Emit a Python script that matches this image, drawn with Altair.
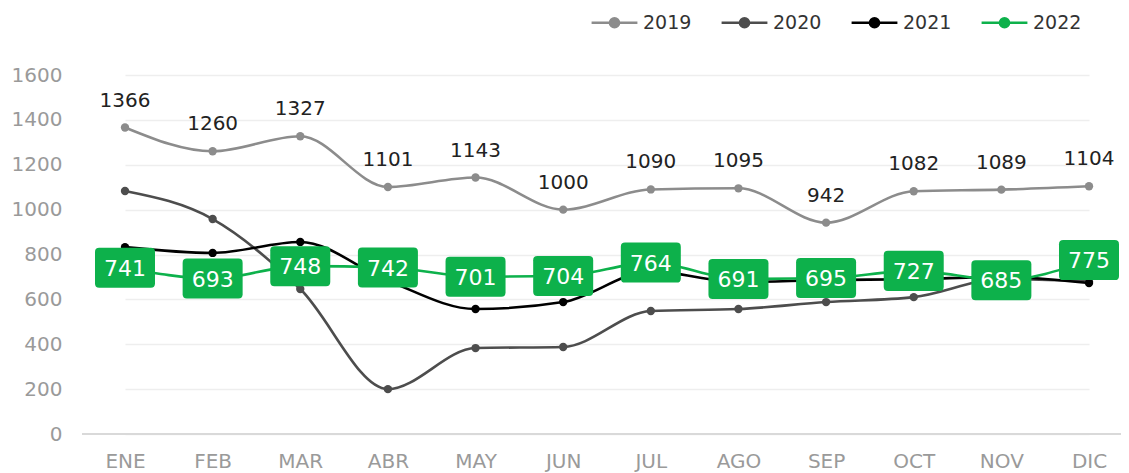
import altair as alt
import pandas as pd

months = ["ENE", "FEB", "MAR", "ABR", "MAY", "JUN", "JUL", "AGO", "SEP", "OCT", "NOV", "DIC"]
years = ["2019", "2020", "2021", "2022"]
v2019 = [1366, 1260, 1327, 1101, 1143, 1000, 1090, 1095, 942, 1082, 1089, 1104]
v2020 = [1083, 958, 646, 200, 383, 388, 548, 557, 588, 610, 690, 680]
v2021 = [833, 807, 856, 683, 557, 588, 725, 677, 686, 690, 700, 673]
v2022 = [741, 693, 748, 742, 701, 704, 764, 691, 695, 727, 685, 775]
colors = ["#8c8c8c", "#4d4d4d", "#000000", "#0db14b"]
y_ticks = [0, 200, 400, 600, 800, 1000, 1200, 1400, 1600]

series = {"2019": v2019, "2020": v2020, "2021": v2021, "2022": v2022}
rows = []
for yr in years:
    for i, m in enumerate(months):
        rows.append({"mes": m, "anio": yr, "valor": series[yr][i], "orden": years.index(yr)})
df = pd.DataFrame(rows)

FONT = "DejaVu Sans"

x_enc = alt.X("mes:N", sort=months, scale=alt.Scale(type="point", range=[43, 1007], padding=0),
              axis=alt.Axis(title=None, labelAngle=0, ticks=False, grid=False,
                            domain=False,
                            labelColor="#9a9a9a", labelFontSize=20, labelFont=FONT,
                            labelPadding=17))
y_scale = alt.Scale(domain=[0, 1600], nice=False)
y_axis = alt.Axis(title=None, values=y_ticks, ticks=False, domain=False,
                  grid=True, gridColor="#eeeeee", gridWidth=1.5, format="d",
                  labelColor="#9a9a9a", labelFontSize=20, labelFont=FONT,
                  labelPadding=20)
y_enc = alt.Y("valor:Q", scale=y_scale, axis=y_axis)
color_scale = alt.Scale(domain=years, range=colors)

legend_symbol = "M-1,0L1,0M-0.2,0A0.2,0.2,0,1,0,0.2,0A0.2,0.2,0,1,0,-0.2,0Z"

base = alt.Chart(df)

lines = base.mark_line(interpolate="monotone", strokeWidth=2.6).encode(
    x=x_enc, y=y_enc,
    color=alt.Color("anio:N", scale=color_scale,
                    legend=alt.Legend(title=None, orient="none", direction="horizontal",
                                      legendX=508, legendY=-77,
                                      symbolType=legend_symbol, symbolSize=2100,
                                      symbolStrokeWidth=2.5, symbolFillColor="transparent",
                                      labelFontSize=19, labelFont=FONT, labelColor="#333333",
                                      labelOffset=4, columnPadding=24)),
    detail="anio:N",
    order="orden:Q",
)

baseline = base.mark_rule(color="#d9d9d9", strokeWidth=2).encode(
    y=alt.Y(datum=0, scale=y_scale, axis=y_axis)
)

points = base.mark_point(filled=True, size=70, opacity=1).encode(
    x=x_enc, y=y_enc,
    color=alt.Color("anio:N", scale=color_scale, legend=None),
)

lab2019 = base.transform_filter(alt.datum.anio == "2019").mark_text(
    dy=-27, fontSize=20, font=FONT, color="#222222", baseline="middle"
).encode(x=x_enc, y=y_enc, text="valor:Q")

box_path = ("M-0.86,-0.667L0.86,-0.667Q1,-0.667,1,-0.527L1,0.527Q1,0.667,0.86,0.667"
            "L-0.86,0.667Q-1,0.667,-1,0.527L-1,-0.527Q-1,-0.667,-0.86,-0.667Z")
box2022 = base.transform_filter(alt.datum.anio == "2022").mark_point(
    shape=box_path, size=3600, filled=True, opacity=1, color="#0db14b", strokeWidth=0
).encode(x=x_enc, y=y_enc)

lab2022 = base.transform_filter(alt.datum.anio == "2022").mark_text(
    fontSize=22, font=FONT, color="white", baseline="middle", dy=1
).encode(x=x_enc, y=y_enc, text="valor:Q")

chart = alt.layer(lines, baseline, points, lab2019, box2022, lab2022).properties(
    width=1039, height=359,
    autosize=alt.AutoSizeParams(type="none"),
    padding={"left": 74, "top": 67, "right": 0, "bottom": 38},
    background="white",
).configure_view(stroke=None)

chart.save("out.html", embed_options={"renderer": "svg", "actions": False})
